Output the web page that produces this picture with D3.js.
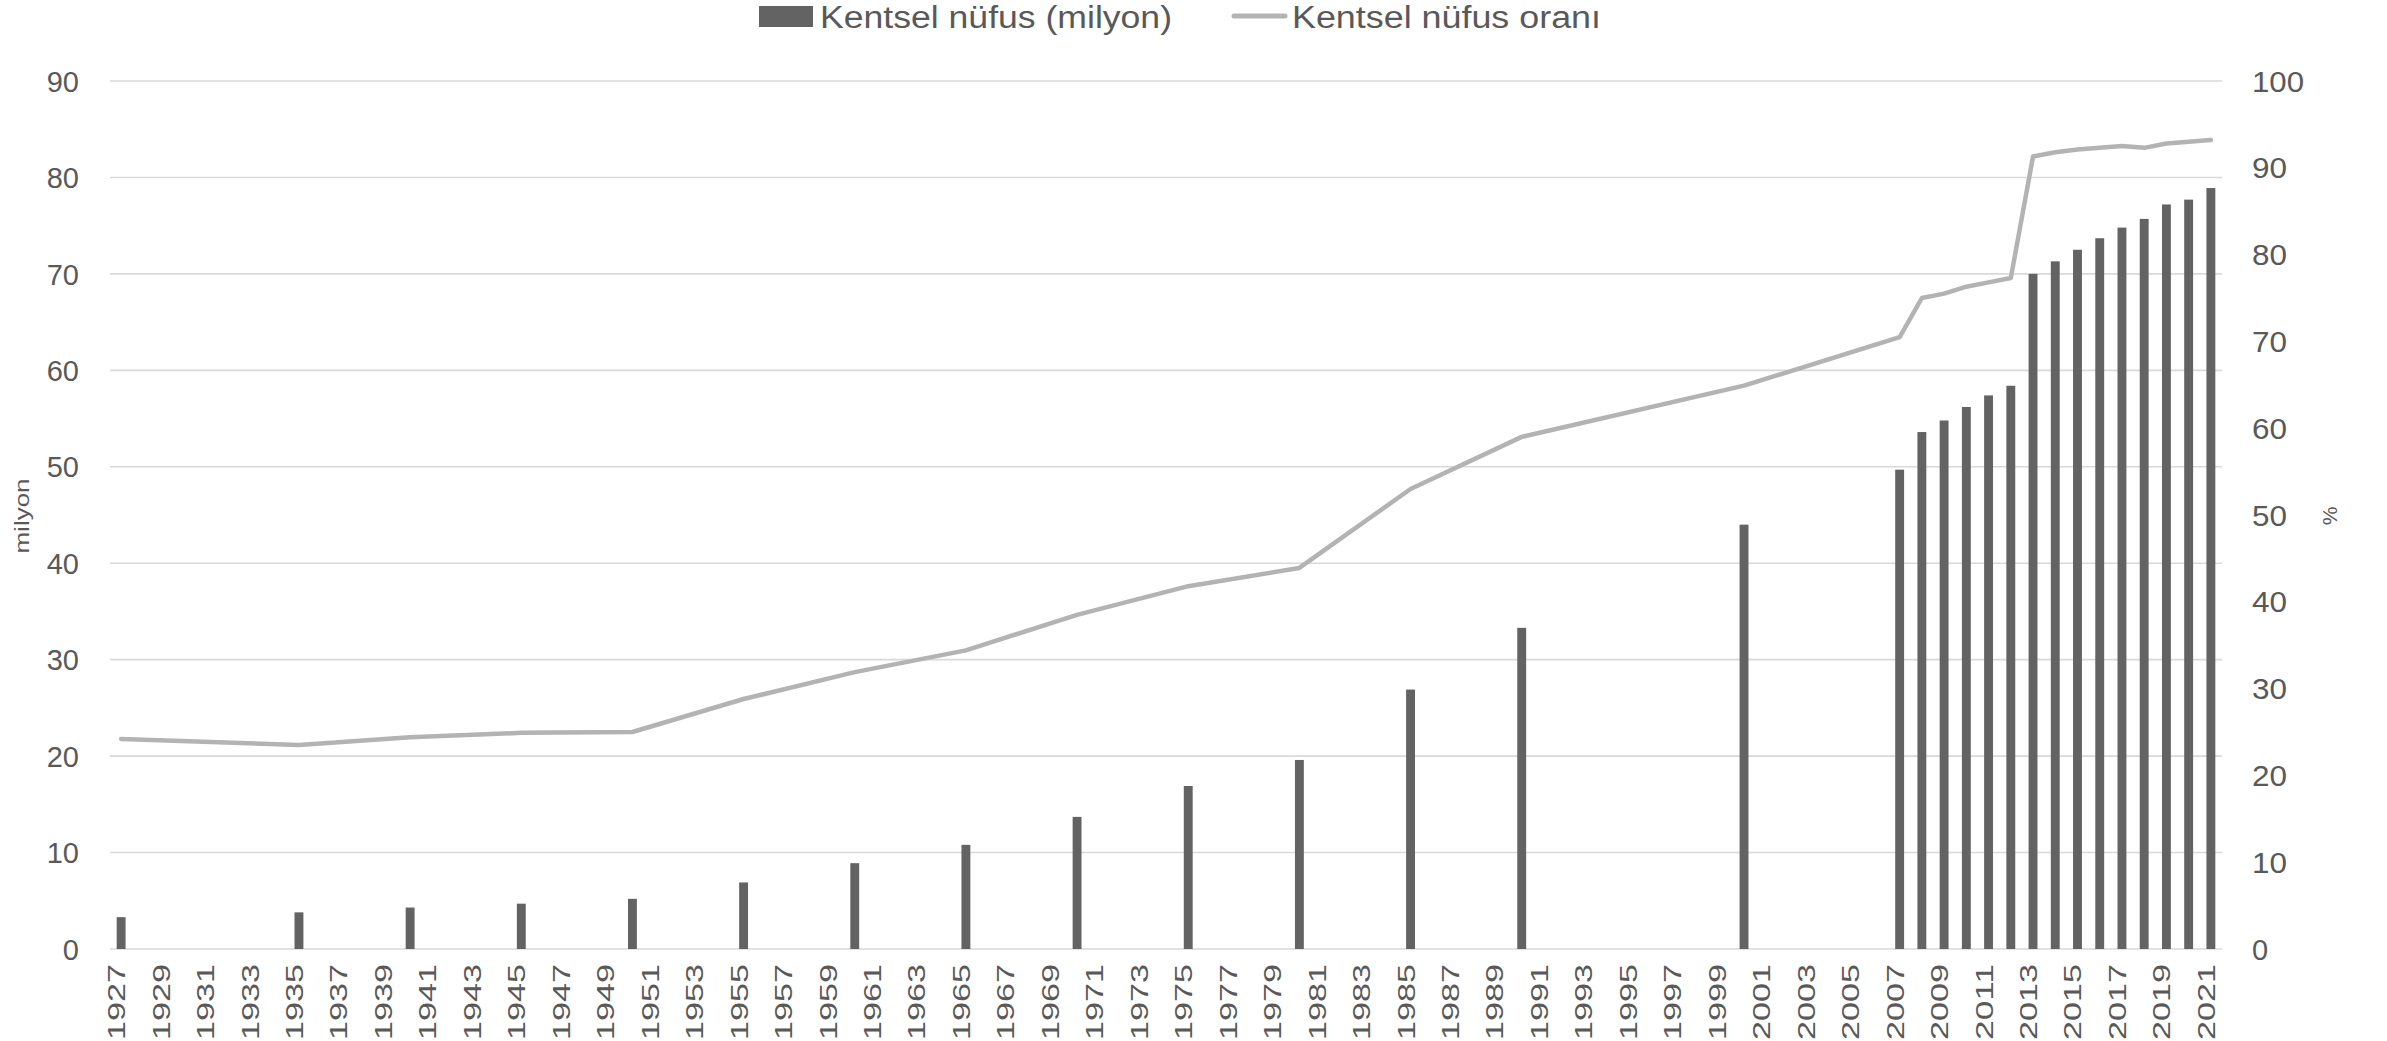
<!DOCTYPE html>
<html>
<head>
<meta charset="utf-8">
<script src="https://cdn.jsdelivr.net/npm/d3@7"></script>
<style>
  html, body { margin: 0; padding: 0; background: #ffffff; }
  svg { display: block; }
  text { font-family: "Liberation Sans", Arial, sans-serif; fill: #595959; }
</style>
</head>
<body>
<svg id="chart" width="2387" height="1041"></svg>
<script>
// ---- data ----
const years = [1927,1928,1929,1930,1931,1932,1933,1934,1935,1936,1937,1938,1939,1940,1941,1942,1943,1944,1945,1946,1947,1948,1949,1950,1951,1952,1953,1954,1955,1956,1957,1958,1959,1960,1961,1962,1963,1964,1965,1966,1967,1968,1969,1970,1971,1972,1973,1974,1975,1976,1977,1978,1979,1980,1981,1982,1983,1984,1985,1986,1987,1988,1989,1990,1991,1992,1993,1994,1995,1996,1997,1998,1999,2000,2001,2002,2003,2004,2005,2006,2007,2008,2009,2010,2011,2012,2013,2014,2015,2016,2017,2018,2019,2020,2021];
const dataYears = [1927,1935,1940,1945,1950,1955,1960,1965,1970,1975,1980,1985,1990,2000,2007,2008,2009,2010,2011,2012,2013,2014,2015,2016,2017,2018,2019,2020,2021];
const urbanPop = [3.3,3.8,4.3,4.7,5.2,6.9,8.9,10.8,13.7,16.9,19.6,26.9,33.3,44.0,49.7,53.6,54.8,56.2,57.4,58.4,70.0,71.3,72.5,73.7,74.8,75.7,77.2,77.7,78.9];
const urbanRate = [24.2,23.5,24.4,24.9,25.0,28.8,31.9,34.4,38.5,41.8,43.9,53.0,59.0,64.9,70.5,75.0,75.5,76.3,76.8,77.3,91.3,91.8,92.1,92.3,92.5,92.3,92.8,93.0,93.2];
const leftTicks = [0,10,20,30,40,50,60,70,80,90];
const rightTicks = [0,10,20,30,40,50,60,70,80,90,100];
const xTickLabels = [1927,1929,1931,1933,1935,1937,1939,1941,1943,1945,1947,1949,1951,1953,1955,1957,1959,1961,1963,1965,1967,1969,1971,1973,1975,1977,1979,1981,1983,1985,1987,1989,1991,1993,1995,1997,1999,2001,2003,2005,2007,2009,2011,2013,2015,2017,2019,2021];
const seriesNames = ["Kentsel nüfus (milyon)", "Kentsel nüfus oranı"];
const leftTitle = "milyon";
const rightTitle = "%";

// ---- layout ----
const plot = { left: 110, right: 2222, top: 81, bottom: 949 };
const barColor = "#636363";
const lineColor = "#b3b3b3";
const gridColor = "#d9d9d9";

const svg = d3.select("#chart");

const x = d3.scaleBand()
  .domain(years)
  .range([plot.left, plot.right])
  .paddingInner(0.6)
  .paddingOuter(0.3);

const yL = d3.scaleLinear().domain([0, 90]).range([plot.bottom, plot.top]);
const yR = d3.scaleLinear().domain([0, 100]).range([plot.bottom, plot.top]);

// gridlines (left axis)
svg.append("g")
  .selectAll("line")
  .data(leftTicks)
  .join("line")
  .attr("x1", plot.left)
  .attr("x2", plot.right)
  .attr("y1", d => yL(d))
  .attr("y2", d => yL(d))
  .attr("stroke", gridColor)
  .attr("stroke-width", 1.6);

// left axis labels
const leftAxis = d3.axisLeft(yL).tickValues(leftTicks).tickSize(0).tickPadding(0);
const gL = svg.append("g").attr("transform", `translate(79,0)`).call(leftAxis);
gL.select(".domain").remove();
gL.selectAll("text")
  .attr("font-size", 29)
  .attr("fill", "#595959")
  .attr("font-family", "'Liberation Sans', Arial, sans-serif")
  .attr("x", 0)
  .attr("dy", "0.35em");

// right axis labels
const rightAxis = d3.axisRight(yR).tickValues(rightTicks).tickSize(0).tickPadding(0);
const gR = svg.append("g").attr("transform", `translate(2252,0)`).call(rightAxis);
gR.select(".domain").remove();
gR.selectAll("text")
  .attr("font-size", 29)
  .attr("fill", "#595959")
  .attr("font-family", "'Liberation Sans', Arial, sans-serif")
  .attr("x", 0)
  .attr("dy", "0.35em")
  .attr("textLength", d => d === 100 ? 52 : d === 0 ? null : 35)
  .attr("lengthAdjust", "spacingAndGlyphs");

// bars
const barData = dataYears.map((yr, i) => ({ year: yr, value: urbanPop[i] }));
svg.append("g")
  .selectAll("rect")
  .data(barData)
  .join("rect")
  .attr("x", d => x(d.year))
  .attr("width", x.bandwidth())
  .attr("y", d => yL(d.value))
  .attr("height", d => yL(0) - yL(d.value))
  .attr("fill", barColor);

// line
const lineData = dataYears.map((yr, i) => ({ year: yr, value: urbanRate[i] }));
const line = d3.line()
  .x(d => x(d.year) + x.bandwidth() / 2)
  .y(d => yR(d.value));
svg.append("path")
  .datum(lineData)
  .attr("d", line)
  .attr("fill", "none")
  .attr("stroke", lineColor)
  .attr("stroke-width", 4.5)
  .attr("stroke-linejoin", "round")
  .attr("stroke-linecap", "round");

// x axis labels (rotated)
const xAxis = d3.axisBottom(x).tickValues(xTickLabels).tickSize(0).tickPadding(0);
const gX = svg.append("g").attr("transform", `translate(0,964)`).call(xAxis);
gX.select(".domain").remove();
gX.selectAll(".tick text")
  .attr("font-size", 24)
  .attr("fill", "#595959")
  .attr("font-family", "'Liberation Sans', Arial, sans-serif")
  .attr("text-anchor", "end")
  .attr("dy", null)
  .attr("y", 0)
  .attr("transform", "translate(4,0) rotate(-90)")
  .attr("x", 0)
  .attr("textLength", 76)
  .attr("lengthAdjust", "spacingAndGlyphs");

// axis titles
svg.append("text")
  .attr("transform", "translate(29,516) rotate(-90)")
  .attr("text-anchor", "middle")
  .attr("font-size", 21)
  .attr("textLength", 75)
  .attr("lengthAdjust", "spacingAndGlyphs")
  .text(leftTitle);

svg.append("text")
  .attr("transform", "translate(2337,516) rotate(-90)")
  .attr("text-anchor", "middle")
  .attr("font-size", 21)
  .text(rightTitle);

// legend
const lg = svg.append("g");
lg.append("rect")
  .attr("x", 759).attr("y", 6).attr("width", 54).attr("height", 21)
  .attr("fill", barColor);
lg.append("text")
  .attr("x", 820).attr("y", 28)
  .attr("font-size", 31)
  .attr("textLength", 352)
  .attr("lengthAdjust", "spacingAndGlyphs")
  .text(seriesNames[0]);
lg.append("line")
  .attr("x1", 1234).attr("x2", 1285).attr("y1", 16).attr("y2", 16)
  .attr("stroke", lineColor).attr("stroke-width", 5).attr("stroke-linecap", "round");
lg.append("text")
  .attr("x", 1292).attr("y", 28)
  .attr("font-size", 31)
  .attr("textLength", 309)
  .attr("lengthAdjust", "spacingAndGlyphs")
  .text(seriesNames[1]);
</script>
</body>
</html>
